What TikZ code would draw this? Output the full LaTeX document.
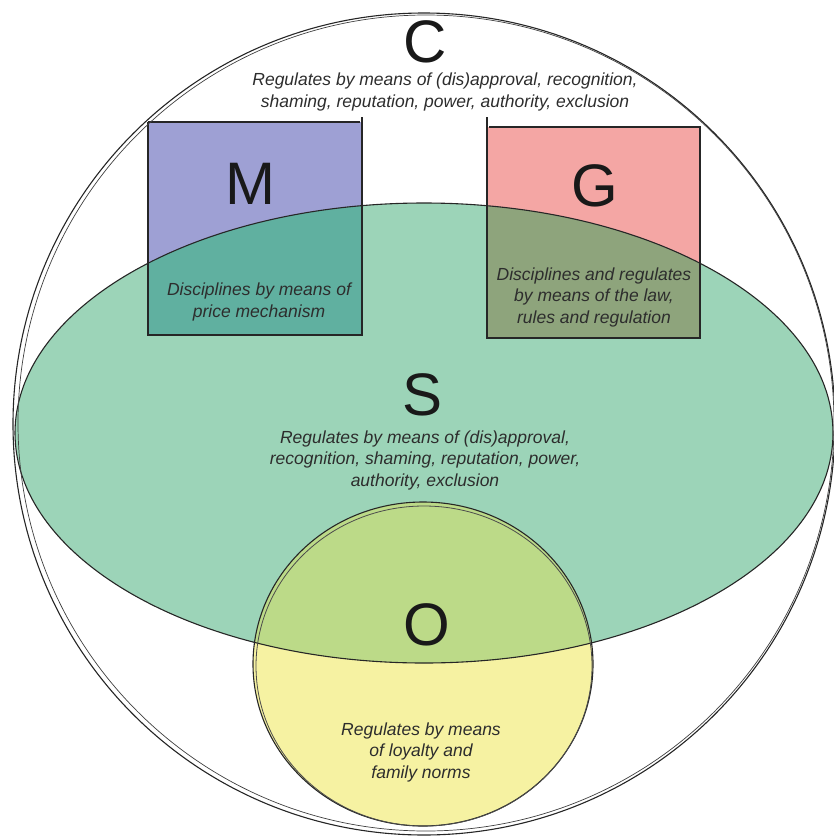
\documentclass[tikz,border=0pt]{standalone}
\usepackage{fontspec}
\setmainfont{Liberation Sans}
\definecolor{Mblue}{RGB}{158,160,212}
\definecolor{Gpink}{RGB}{244,166,164}
\definecolor{Sgreen}{RGB}{156,212,184}
\definecolor{MSteal}{RGB}{96,176,160}
\definecolor{GSolive}{RGB}{142,164,124}
\definecolor{Oyellow}{RGB}{246,242,162}
\definecolor{OSlime}{RGB}{188,218,136}
\definecolor{txt}{RGB}{45,45,45}
\begin{document}
\begin{tikzpicture}[x=1pt,y=-1pt,
  outline/.style={draw=black!85,line width=1.1pt},
  bigletter/.style={font=\fontsize{60}{60}\selectfont,text=black!90,inner sep=0pt},
  desc/.style={font=\fontsize{17.5}{21.5}\selectfont\itshape,text=txt,align=center,inner sep=0pt}]
\useasboundingbox (0,0) rectangle (834,839);
% S ellipse fill
\fill[Sgreen] (424,433) ellipse [x radius=409, y radius=230];
% squares
\fill[Mblue] (148,122) rectangle (362,335);
\fill[Gpink] (487,127) rectangle (700,338);
\begin{scope}
  \clip (424,433) ellipse [x radius=409, y radius=230];
  \fill[MSteal] (148,122) rectangle (362,335);
  \fill[GSolive] (487,127) rectangle (700,338);
\end{scope}
% O circle
\fill[Oyellow] (423,664) ellipse [x radius=170, y radius=162];
\begin{scope}
  \clip (424,433) ellipse [x radius=409, y radius=230];
  \fill[OSlime] (423,664) ellipse [x radius=170, y radius=162];
\end{scope}
% outlines
\draw[outline] (424,433) ellipse [x radius=409, y radius=230];
\draw[outline] (148,122) -- (360,122);
\draw[outline] (148,122) -- (148,335) -- (362,335) -- (362,117);
\draw[outline] (489,127) -- (700,127) -- (700,338) -- (487,338) -- (487,117);
\draw[outline] (423,664) ellipse [x radius=170, y radius=162];
\draw[black!70,line width=0.8pt] (424,666) ellipse [x radius=168, y radius=160];
% outer sketchy circle
\draw[outline] (424,424) circle [radius=411];
\draw[black!75,line width=0.7pt] (426,423) circle [radius=408];
% texts
\node[bigletter] (C) at (425,42) {C};
\node[desc] (Ct) at (445,92) {Regulates by means of (dis)approval, recognition,\\shaming, reputation, power, authority, exclusion};
\node[bigletter] (M) at (250,184) {M};
\node[desc] (Mt) at (259,302) {Disciplines by means of\\price mechanism};
\node[bigletter] (G) at (595,186) {G};
\node[desc] (Gt) at (594,297) {Disciplines and regulates\\by means of the law,\\rules and regulation};
\node[bigletter] (S) at (423,395) {S};
\node[desc] (St) at (425,460) {Regulates by means of (dis)approval,\\recognition, shaming, reputation, power,\\authority, exclusion};
\node[bigletter] (O) at (427,625) {O};
\node[desc] (Ot) at (421,752) {Regulates by means\\of loyalty and\\family norms};
\end{tikzpicture}
\end{document}
